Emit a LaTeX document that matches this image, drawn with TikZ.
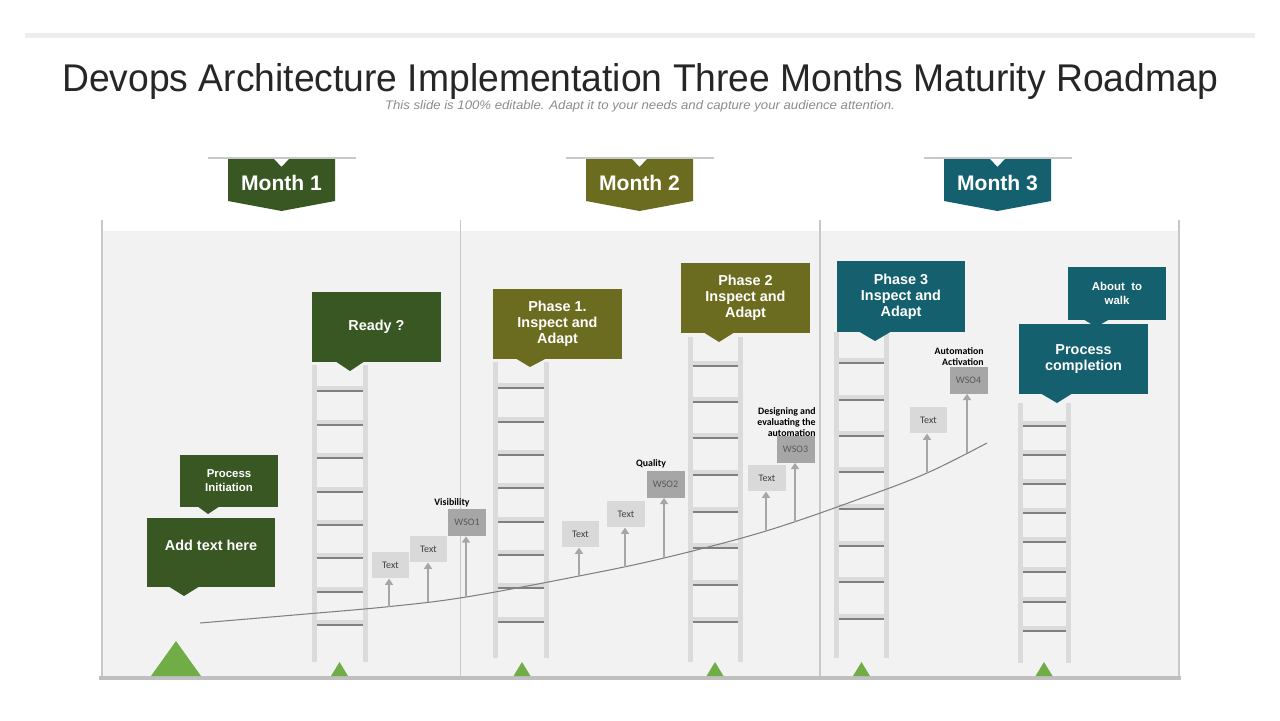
\documentclass[tikz,border=0pt]{standalone}
\usepackage{fontspec}
\usepackage{graphicx}
\setmainfont{Liberation Sans}
\newfontfamily\calfont{Carlito}
\usetikzlibrary{arrows.meta}
\definecolor{dkgreen}{HTML}{385723}
\definecolor{olivec}{HTML}{6B6C1F}
\definecolor{tealc}{HTML}{14606E}
\definecolor{lgreen}{HTML}{70AD47}
\definecolor{panelc}{HTML}{F2F2F2}
\definecolor{railc}{HTML}{DBDBDB}
\definecolor{rungc}{HTML}{808080}
\definecolor{boxlight}{HTML}{D9D9D9}
\definecolor{boxdark}{HTML}{A6A6A6}
\definecolor{arrowc}{HTML}{A6A6A6}
\definecolor{titlec}{HTML}{262626}
\definecolor{subc}{HTML}{8C8C8C}
\definecolor{sepc}{HTML}{C8C8C8}
\newcommand\myladder[5]{%
  \fill[railc] (#1-2.5,#3) rectangle (#1+2.5,#4);
  \fill[railc] (#2-2.5,#3) rectangle (#2+2.5,#4);
  \foreach \ry in {#5} {
    \fill[railc] (#1+2.5,\ry-6) rectangle (#2-2.5,\ry);
    \draw[rungc, line width=1pt] (#1+2.5,\ry-0.8) -- (#2-2.5,\ry-0.8);
  }%
}
\newcommand\monthtab[2]{%
  \draw[sepc, line width=1.3pt] (#1-74,158) -- (#1+74,158);
  \fill[#2] (#1-53.5,159) -- (#1-7.5,159) -- (#1,167) -- (#1+7.5,159) -- (#1+53.5,159)
    -- (#1+53.5,201) -- (#1,211) -- (#1-53.5,201) -- cycle;
}
\tikzset{
  cbox/.style={inner sep=0pt, text=white, align=center, font=\bfseries\fontsize{8.2}{9.1}\selectfont},
  sbox/.style={inner sep=0pt, text=white, align=center, font=\bfseries\fontsize{6.5}{8}\selectfont, minimum width=1.96cm},
  monthtxt/.style={inner sep=0pt, text=white, font=\bfseries\fontsize{12}{14}\selectfont},
  tbox/.style={inner sep=0pt, fill=boxlight, text=black!75, minimum width=0.75cm, minimum height=0.53cm, font=\calfont\fontsize{5.7}{6.5}\selectfont},
  wbox/.style={inner sep=0pt, fill=boxdark, text=black!65, minimum width=0.76cm, minimum height=0.54cm, font=\calfont\fontsize{5.7}{6.5}\selectfont},
  lbl/.style={inner sep=0pt, text=black, font=\calfont\bfseries\fontsize{5.6}{6.3}\selectfont},
  arr/.style={arrowc, line width=1.6pt, -{Triangle[width=4.5pt,length=3.5pt]}},
}
\begin{document}
\begin{tikzpicture}[x=0.02cm, y=-0.02cm]
\useasboundingbox (0,0) rectangle (1280,720);
\fill[white] (0,0) rectangle (1280,720);
% top bar
\fill[black!7] (25,33) rectangle (1255,38);
% title
\node[anchor=base, inner sep=0pt, text=titlec] (title) at (640,91.5)
  {\resizebox{23.12cm}{0.56cm}{Devops Architecture Implementation Three Months Maturity Roadmap}};
\node[anchor=base, inner sep=0pt, text=subc] (subtitle) at (640,109.5)
  {\resizebox{10.2cm}{0.18cm}{\itshape This slide is 100\% editable. Adapt it to your needs and capture your audience attention.}};
% panels
\fill[panelc] (102,231) rectangle (1179,676);
\foreach \sx in {102,460.5,820,1179} {\draw[sepc, line width=0.8pt] (\sx,220) -- (\sx,676);}
\fill[black!25] (99,676) rectangle (1181,680);
% month tabs
\monthtab{281.5}{dkgreen}
\monthtab{639.5}{olivec}
\monthtab{997.5}{tealc}
\node[monthtxt] (m1) at (281.5,183) {Month 1};
\node[monthtxt] (m2) at (639.5,183) {Month 2};
\node[monthtxt] (m3) at (997.5,183) {Month 3};
% ladders
\myladder{314}{365}{365}{662}{392,426,459,493,526,559,593,626}
\myladder{495}{546}{362}{658}{389,423,456,489,523,556,589,623}
\myladder{690}{740}{337}{662}{367,403,439,476,513,549,586,623}
\myladder{836.5}{886.5}{332}{658}{364,401,437,473,510,547,583,620}
\myladder{1020}{1068.5}{403}{663}{427,456,485,514,543,573,603,632}
% ground triangles
\fill[lgreen] (151,676) -- (176,641) -- (201,676) -- cycle;
\foreach \tx in {339.5,522,715,861.5,1044} {\fill[lgreen] (\tx-8.5,676) -- (\tx,662) -- (\tx+8.5,676) -- cycle;}
% curve
\draw[black!50, line width=0.6pt] plot[smooth, tension=0.6] coordinates
  {(200,623) (300,614.5) (390,606.5) (466,597) (579,576) (664,558) (766,531) (862,498) (927,473) (987,443)};
\coordinate (c1) at (389,606.5);
\coordinate (c2) at (428,602);
\coordinate (c3) at (466,597);
\coordinate (c4) at (579,576);
\coordinate (c5) at (625,567);
\coordinate (c6) at (664,558);
\coordinate (c7) at (766,531);
\coordinate (c8) at (795,522);
\coordinate (c9) at (927,473);
\coordinate (c10) at (967,453);
% small boxes
\node[tbox] (t1) at (390.5,565) {Text};
\node[tbox] (t2) at (428.5,549) {Text};
\node[wbox] (w1) at (467,522.5) {WSO1};
\node[tbox] (t3) at (580.5,534) {Text};
\node[tbox] (t4) at (626,514) {Text};
\node[wbox] (w2) at (665.5,484) {WSO2};
\node[tbox] (t5) at (767,478) {Text};
\node[wbox] (w3) at (795.5,449) {WSO3};
\node[tbox] (t6) at (928.5,420) {Text};
\node[wbox] (w4) at (968.5,380) {WSO4};
\draw[arr] (c1) -- (c1 |- t1.south);
\draw[arr] (c2) -- (c2 |- t2.south);
\draw[arr] (c3) -- (c3 |- w1.south);
\draw[arr] (c4) -- (c4 |- t3.south);
\draw[arr] (c5) -- (c5 |- t4.south);
\draw[arr] (c6) -- (c6 |- w2.south);
\draw[arr] (c7) -- (c7 |- t5.south);
\draw[arr] (c8) -- (c8 |- w3.south);
\draw[arr] (c9) -- (c9 |- t6.south);
\draw[arr] (c10) -- (c10 |- w4.south);
% labels
\node[lbl] (lvis) at (452,503) {Visibility};
\node[lbl] (lqual) at (651,464) {Quality};
\node[lbl, anchor=east, align=right] (ldes) at (816,422) {Designing and\\evaluating the\\automation};
\node[lbl, anchor=east, align=right] (lauto) at (984,356.5) {Automation\\Activation};
% callouts month 1
\node[cbox, fill=dkgreen, minimum width=2.58cm, minimum height=1.40cm] (ready) at (376.5,327) {Ready ?};
\fill[dkgreen] (335,361) -- (350,371) -- (365,361) -- cycle;
\node[sbox, fill=dkgreen, minimum height=1.04cm] (pinit) at (229,481) {Process\\Initiation};
\fill[dkgreen] (197,506) -- (208,514) -- (220,506) -- cycle;
\node[cbox, fill=dkgreen, minimum width=2.56cm, minimum height=1.38cm] (addbox) at (211,552.5) {};
\node[cbox] (addtxt) at (211,545) {Add text here};
\fill[dkgreen] (168,586) -- (184,596) -- (200,586) -- cycle;
% callouts month 2
\node[cbox, fill=olivec, minimum width=2.58cm, minimum height=1.40cm] (ph1) at (557.5,324) {Phase 1.\\Inspect and\\Adapt};
\fill[olivec] (515,358) -- (530,367) -- (547,358) -- cycle;
\node[cbox, fill=olivec, minimum width=2.58cm, minimum height=1.40cm] (ph2) at (745.5,298) {Phase 2\\Inspect and\\Adapt};
\fill[olivec] (703,332) -- (719,342) -- (735,332) -- cycle;
% callouts month 3
\node[cbox, fill=tealc, minimum width=2.56cm, minimum height=1.42cm] (ph3) at (901,296.5) {Phase 3\\Inspect and\\Adapt};
\fill[tealc] (858,331) -- (875,341) -- (892,331) -- cycle;
\node[cbox, fill=tealc, minimum width=2.58cm, minimum height=1.40cm, font=\bfseries\fontsize{8.2}{8.6}\selectfont] (pcomp) at (1083.5,359) {Process\\completion};
\fill[tealc] (1040,393) -- (1057,403) -- (1073,393) -- cycle;
\node[sbox, fill=tealc, minimum height=1.06cm] (about) at (1117,293.5) {About\ \ to\\walk};
\fill[tealc] (1083,319) -- (1096,327) -- (1110,319) -- cycle;
\end{tikzpicture}
\end{document}
